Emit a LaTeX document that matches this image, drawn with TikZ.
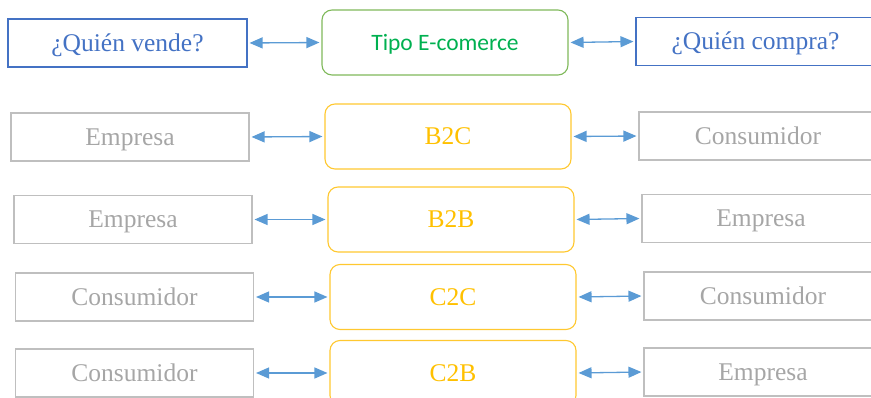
\documentclass[tikz,border=0pt]{standalone}
\usepackage{fontspec}
\setmainfont{Liberation Serif}
\newfontfamily\calib{Carlito}
\usetikzlibrary{arrows.meta}
\definecolor{qblue}{HTML}{4472C4}
\definecolor{abl}{HTML}{5B9BD5}
\definecolor{ggreen}{HTML}{00B050}
\definecolor{gbord}{HTML}{7FB95A}
\definecolor{yel}{HTML}{FFC000}
\definecolor{ybord}{HTML}{FFC830}
\definecolor{gtext}{HTML}{A6A6A6}
\definecolor{gbordr}{HTML}{BFBFBF}
\tikzset{
  serif/.style={font=\fontsize{25.5}{28}\selectfont, text height=16.8pt, text depth=0pt},
  qbox/.style={serif, draw=qblue, line width=1.1pt, text=qblue, minimum width=239pt, minimum height=48pt, inner sep=0pt},
  tbox/.style={draw=gbord, line width=1.1pt, text=ggreen, rounded corners=10pt, font=\calib\fontsize{23.5}{26}\selectfont, text height=15.1pt, text depth=0pt, minimum width=246pt, minimum height=65pt, inner sep=0pt},
  ebox/.style={serif, draw=gbordr, line width=1.1pt, text=gtext, minimum width=238pt, minimum height=48pt, inner sep=0pt},
  cbox/.style={serif, draw=ybord, line width=1.1pt, text=yel, rounded corners=10pt, minimum width=246pt, minimum height=65pt, inner sep=0pt},
  link/.style={draw=abl, line width=1.3pt, {Triangle[length=13pt,width=11pt]}-{Triangle[length=13pt,width=11pt]}, shorten <=2pt, shorten >=2pt}
}
\begin{document}
\begin{tikzpicture}[x=1pt,y=-1pt]
\useasboundingbox (0,0) rectangle (871,398);
\clip (0,0) rectangle (871,398);
% row 1
\node[qbox] (L1) at (127.5,43) {¿Quién vende?};
\node[tbox] (C1) at (445,42.5) {Tipo E-comerce};
\node[qbox] (R1) at (755.5,41.5) {¿Quién compra?};
% row 2
\node[ebox] (L2) at (130,137) {Empresa};
\node[cbox] (C2) at (448,136.5) {B2C};
\node[ebox] (R2) at (758,136) {Consumidor};
% row 3
\node[ebox] (L3) at (133,219.5) {Empresa};
\node[cbox] (C3) at (451,219.5) {B2B};
\node[ebox] (R3) at (761,218.5) {Empresa};
% row 4
\node[ebox] (L4) at (134.5,297) {Consumidor};
\node[cbox] (C4) at (453,297) {C2C};
\node[ebox] (R4) at (763,296) {Consumidor};
% row 5
\node[ebox] (L5) at (134.5,373) {Consumidor};
\node[cbox] (C5) at (453,373) {C2B};
\node[ebox] (R5) at (763,372) {Empresa};
\foreach \i in {1,...,5}{
  \draw[link] (L\i.east) -- (C\i.west);
  \draw[link] (C\i.east) -- (R\i.west);
}
\end{tikzpicture}
\end{document}
